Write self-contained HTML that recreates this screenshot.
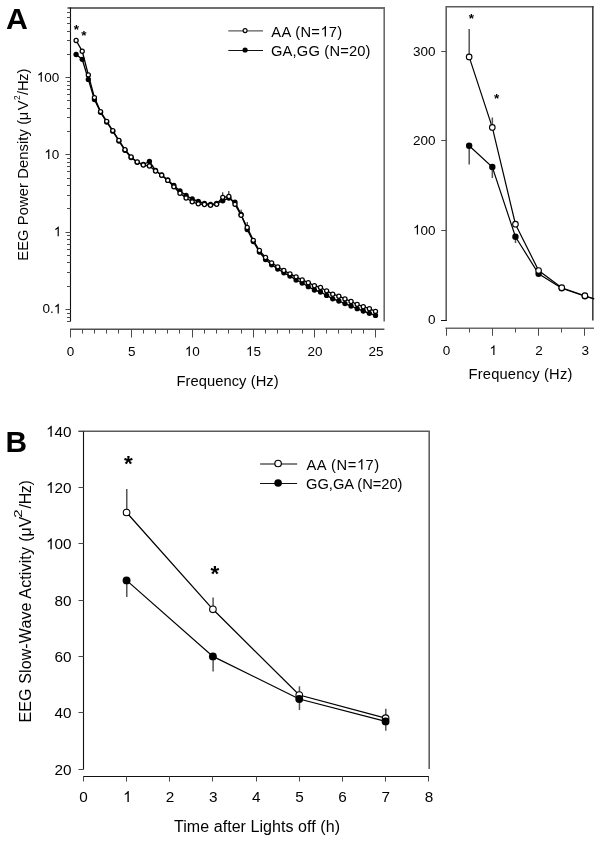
<!DOCTYPE html>
<html><head><meta charset="utf-8"><title>EEG power density figure</title>
<style>
html,body{margin:0;padding:0;background:#fff;}
svg{display:block;will-change:transform;}
text{font-family:"Liberation Sans", sans-serif;fill:#000;}
</style></head>
<body>
<svg width="601" height="841" viewBox="0 0 601 841">
<defs><path id="one" d="M763 0L583 0L583 1147Q520 1087 418 1027Q316 967 223 929L223 1103Q370 1172 480 1270Q590 1368 640 1466L763 1466Z"/></defs>
<rect width="601" height="841" fill="#fff"/>
<path d="M67.5 8H384.2" stroke="#6e6e6e" stroke-width="2"/>
<path d="M384.2 7V321.5" stroke="#6a6a6a" stroke-width="1.6"/>
<path d="M70.5 7.5V321.5" stroke="#111" stroke-width="1.1"/>
<path d="M67 321.5H70.5 M67 317.5H70.5 M67 313.5H70.5 M65.5 309.5H70.5 M67 286.5H70.5 M67 272.5H70.5 M67 262.5H70.5 M67 255.5H70.5 M67 249.5H70.5 M67 244.5H70.5 M67 239.5H70.5 M67 235.5H70.5 M65.5 232.5H70.5 M67 208.5H70.5 M67 195.5H70.5 M67 185.5H70.5 M67 178.5H70.5 M67 171.5H70.5 M67 166.5H70.5 M67 162.5H70.5 M67 158.5H70.5 M65.5 154.5H70.5 M67 131.5H70.5 M67 117.5H70.5 M67 108.5H70.5 M67 100.5H70.5 M67 94.5H70.5 M67 89.5H70.5 M67 85.5H70.5 M67 81.5H70.5 M65.5 77.5H70.5 M67 54.5H70.5 M67 40.5H70.5 M67 31.5H70.5 M67 23.5H70.5 M67 17.5H70.5 M67 12.5H70.5" stroke="#4a4a4a" stroke-width="1"/>
<path d="M70 329.2H384.4" stroke="#505050" stroke-width="1.6"/>
<path d="M70.5 329.5V337.5 M82.5 329.5V333.5 M94.5 329.5V333.5 M106.5 329.5V333.5 M118.5 329.5V333.5 M131.5 329.5V337.5 M143.5 329.5V333.5 M155.5 329.5V333.5 M167.5 329.5V333.5 M179.5 329.5V333.5 M192.5 329.5V337.5 M204.5 329.5V333.5 M216.5 329.5V333.5 M228.5 329.5V333.5 M241.5 329.5V333.5 M253.5 329.5V337.5 M265.5 329.5V333.5 M277.5 329.5V333.5 M289.5 329.5V333.5 M302.5 329.5V333.5 M314.5 329.5V337.5 M326.5 329.5V333.5 M338.5 329.5V333.5 M351.5 329.5V333.5 M363.5 329.5V333.5 M375.5 329.5V337.5" stroke="#4a4a4a" stroke-width="1"/>
<text x="36.8" y="81.7" font-size="13.5"> 00</text>
<use href="#one" transform="translate(36.8 81.7) scale(0.006592 -0.006592)"/>
<text x="44.31" y="158.95" font-size="13.5"> 0</text>
<use href="#one" transform="translate(44.31 158.95) scale(0.006592 -0.006592)"/>
<text x="53.76" y="236.2" font-size="13.5"> </text>
<use href="#one" transform="translate(53.76 236.2) scale(0.006592 -0.006592)"/>
<text x="42.51" y="313.45" font-size="13.5">0. </text>
<use href="#one" transform="translate(53.76 313.45) scale(0.006592 -0.006592)"/>
<text x="66.84" y="355.9" font-size="13.5">0</text>
<text x="127.95" y="355.9" font-size="13.5">5</text>
<text x="184.82" y="355.9" font-size="13.5"> 0</text>
<use href="#one" transform="translate(184.82 355.9) scale(0.006592 -0.006592)"/>
<text x="245.93" y="355.9" font-size="13.5"> 5</text>
<use href="#one" transform="translate(245.93 355.9) scale(0.006592 -0.006592)"/>
<text x="307.42" y="355.9" font-size="13.5">20</text>
<text x="368.53" y="355.9" font-size="13.5">25</text>
<text x="176.39" y="385.5" font-size="14.7" textLength="102.24">Frequency (Hz)</text>
<g transform="translate(27.8 0) rotate(-90)"><text x="-260.71" y="0" font-size="14.7" textLength="140.82">EEG Power Density (</text></g>
<g transform="translate(27.8 0) rotate(-90)"><text x="-120.29" y="0" font-size="14.7" textLength="9.18">μ</text></g>
<g transform="translate(27.8 0) rotate(-90)"><text x="-110.37" y="0" font-size="14.7" textLength="9.24">V</text></g>
<g transform="translate(20.4 0) rotate(-90)"><text x="-100.02" y="0" font-size="8.3" textLength="4.24">2</text></g>
<g transform="translate(27.8 0) rotate(-90)"><text x="-95" y="0" font-size="14.7" textLength="26.43">/Hz)</text></g>
<polyline points="76.11,54.5 82.22,59.3 88.33,79.4 94.44,99.5 100.55,112.3 106.66,122 112.77,131.2 118.88,141 124.99,150.3 131.1,157.5 137.21,162.3 143.32,164.5 149.43,161.5 155.54,170.5 161.65,175 167.76,180 173.87,185.5 179.98,191 186.09,195.5 192.2,199 198.31,201.3 204.42,203.5 210.53,204.5 216.64,203.5 222.75,200.8 228.86,198 234.97,202.2 241.08,214.5 247.19,229.5 253.3,241.5 259.41,252 265.52,259.5 271.63,264.8 277.74,269 283.85,272.8 289.96,276 296.07,280 302.18,283 308.29,286.7 314.4,290 320.51,292 326.62,295.4 332.73,298.8 338.84,301 344.95,303.6 351.06,306 357.17,308.7 363.28,311 369.39,313.3 375.5,315.4" fill="none" stroke="#000" stroke-width="1.35" stroke-linejoin="round"/>
<polyline points="76.11,40.5 82.22,51.2 88.33,74.9 94.44,97.6 100.55,111.6 106.66,121.3 112.77,130.6 118.88,140.3 124.99,149.7 131.1,157 137.21,162 143.32,165 149.43,166 155.54,171 161.65,175.2 167.76,180.4 173.87,186.8 179.98,193.2 186.09,198 192.2,201.8 198.31,203.8 204.42,204.5 210.53,205.3 216.64,204.3 222.75,197.3 228.86,196.5 234.97,204.3 241.08,215.2 247.19,227.5 253.3,240.3 259.41,250.5 265.52,257.5 271.63,262.8 277.74,266.8 283.85,270.5 289.96,273.8 296.07,276.8 302.18,279.9 308.29,282.7 314.4,285.7 320.51,287.5 326.62,290.8 332.73,294.2 338.84,296.2 344.95,298.9 351.06,301.5 357.17,304.3 363.28,306.7 369.39,308.7 375.5,311.4" fill="none" stroke="#000" stroke-width="1.35" stroke-linejoin="round"/>
<path d="M222.75 195.3v-3" stroke="#000" stroke-width="1"/>
<path d="M228.86 194.5v-3.5" stroke="#000" stroke-width="1"/>
<path d="M241.08 213.2v-3.5" stroke="#000" stroke-width="1"/>
<path d="M247.19 225.5v-3.5" stroke="#000" stroke-width="1"/>
<circle cx="76.11" cy="54.5" r="2.65" fill="#000"/>
<circle cx="82.22" cy="59.3" r="2.65" fill="#000"/>
<circle cx="88.33" cy="79.4" r="2.65" fill="#000"/>
<circle cx="94.44" cy="99.5" r="2.65" fill="#000"/>
<circle cx="100.55" cy="112.3" r="2.65" fill="#000"/>
<circle cx="106.66" cy="122" r="2.65" fill="#000"/>
<circle cx="112.77" cy="131.2" r="2.65" fill="#000"/>
<circle cx="118.88" cy="141" r="2.65" fill="#000"/>
<circle cx="124.99" cy="150.3" r="2.65" fill="#000"/>
<circle cx="131.1" cy="157.5" r="2.65" fill="#000"/>
<circle cx="137.21" cy="162.3" r="2.65" fill="#000"/>
<circle cx="143.32" cy="164.5" r="2.65" fill="#000"/>
<circle cx="149.43" cy="161.5" r="2.65" fill="#000"/>
<circle cx="155.54" cy="170.5" r="2.65" fill="#000"/>
<circle cx="161.65" cy="175" r="2.65" fill="#000"/>
<circle cx="167.76" cy="180" r="2.65" fill="#000"/>
<circle cx="173.87" cy="185.5" r="2.65" fill="#000"/>
<circle cx="179.98" cy="191" r="2.65" fill="#000"/>
<circle cx="186.09" cy="195.5" r="2.65" fill="#000"/>
<circle cx="192.2" cy="199" r="2.65" fill="#000"/>
<circle cx="198.31" cy="201.3" r="2.65" fill="#000"/>
<circle cx="204.42" cy="203.5" r="2.65" fill="#000"/>
<circle cx="210.53" cy="204.5" r="2.65" fill="#000"/>
<circle cx="216.64" cy="203.5" r="2.65" fill="#000"/>
<circle cx="222.75" cy="200.8" r="2.65" fill="#000"/>
<circle cx="228.86" cy="198" r="2.65" fill="#000"/>
<circle cx="234.97" cy="202.2" r="2.65" fill="#000"/>
<circle cx="241.08" cy="214.5" r="2.65" fill="#000"/>
<circle cx="247.19" cy="229.5" r="2.65" fill="#000"/>
<circle cx="253.3" cy="241.5" r="2.65" fill="#000"/>
<circle cx="259.41" cy="252" r="2.65" fill="#000"/>
<circle cx="265.52" cy="259.5" r="2.65" fill="#000"/>
<circle cx="271.63" cy="264.8" r="2.65" fill="#000"/>
<circle cx="277.74" cy="269" r="2.65" fill="#000"/>
<circle cx="283.85" cy="272.8" r="2.65" fill="#000"/>
<circle cx="289.96" cy="276" r="2.65" fill="#000"/>
<circle cx="296.07" cy="280" r="2.65" fill="#000"/>
<circle cx="302.18" cy="283" r="2.65" fill="#000"/>
<circle cx="308.29" cy="286.7" r="2.65" fill="#000"/>
<circle cx="314.4" cy="290" r="2.65" fill="#000"/>
<circle cx="320.51" cy="292" r="2.65" fill="#000"/>
<circle cx="326.62" cy="295.4" r="2.65" fill="#000"/>
<circle cx="332.73" cy="298.8" r="2.65" fill="#000"/>
<circle cx="338.84" cy="301" r="2.65" fill="#000"/>
<circle cx="344.95" cy="303.6" r="2.65" fill="#000"/>
<circle cx="351.06" cy="306" r="2.65" fill="#000"/>
<circle cx="357.17" cy="308.7" r="2.65" fill="#000"/>
<circle cx="363.28" cy="311" r="2.65" fill="#000"/>
<circle cx="369.39" cy="313.3" r="2.65" fill="#000"/>
<circle cx="375.5" cy="315.4" r="2.65" fill="#000"/>
<circle cx="76.11" cy="40.5" r="2.05" fill="#fff" stroke="#000" stroke-width="1.25"/>
<circle cx="82.22" cy="51.2" r="2.05" fill="#fff" stroke="#000" stroke-width="1.25"/>
<circle cx="88.33" cy="74.9" r="2.05" fill="#fff" stroke="#000" stroke-width="1.25"/>
<circle cx="94.44" cy="97.6" r="2.05" fill="#fff" stroke="#000" stroke-width="1.25"/>
<circle cx="100.55" cy="111.6" r="2.05" fill="#fff" stroke="#000" stroke-width="1.25"/>
<circle cx="106.66" cy="121.3" r="2.05" fill="#fff" stroke="#000" stroke-width="1.25"/>
<circle cx="112.77" cy="130.6" r="2.05" fill="#fff" stroke="#000" stroke-width="1.25"/>
<circle cx="118.88" cy="140.3" r="2.05" fill="#fff" stroke="#000" stroke-width="1.25"/>
<circle cx="124.99" cy="149.7" r="2.05" fill="#fff" stroke="#000" stroke-width="1.25"/>
<circle cx="131.1" cy="157" r="2.05" fill="#fff" stroke="#000" stroke-width="1.25"/>
<circle cx="137.21" cy="162" r="2.05" fill="#fff" stroke="#000" stroke-width="1.25"/>
<circle cx="143.32" cy="165" r="2.05" fill="#fff" stroke="#000" stroke-width="1.25"/>
<circle cx="149.43" cy="166" r="2.05" fill="#fff" stroke="#000" stroke-width="1.25"/>
<circle cx="155.54" cy="171" r="2.05" fill="#fff" stroke="#000" stroke-width="1.25"/>
<circle cx="161.65" cy="175.2" r="2.05" fill="#fff" stroke="#000" stroke-width="1.25"/>
<circle cx="167.76" cy="180.4" r="2.05" fill="#fff" stroke="#000" stroke-width="1.25"/>
<circle cx="173.87" cy="186.8" r="2.05" fill="#fff" stroke="#000" stroke-width="1.25"/>
<circle cx="179.98" cy="193.2" r="2.05" fill="#fff" stroke="#000" stroke-width="1.25"/>
<circle cx="186.09" cy="198" r="2.05" fill="#fff" stroke="#000" stroke-width="1.25"/>
<circle cx="192.2" cy="201.8" r="2.05" fill="#fff" stroke="#000" stroke-width="1.25"/>
<circle cx="198.31" cy="203.8" r="2.05" fill="#fff" stroke="#000" stroke-width="1.25"/>
<circle cx="204.42" cy="204.5" r="2.05" fill="#fff" stroke="#000" stroke-width="1.25"/>
<circle cx="210.53" cy="205.3" r="2.05" fill="#fff" stroke="#000" stroke-width="1.25"/>
<circle cx="216.64" cy="204.3" r="2.05" fill="#fff" stroke="#000" stroke-width="1.25"/>
<circle cx="222.75" cy="197.3" r="2.05" fill="#fff" stroke="#000" stroke-width="1.25"/>
<circle cx="228.86" cy="196.5" r="2.05" fill="#fff" stroke="#000" stroke-width="1.25"/>
<circle cx="234.97" cy="204.3" r="2.05" fill="#fff" stroke="#000" stroke-width="1.25"/>
<circle cx="241.08" cy="215.2" r="2.05" fill="#fff" stroke="#000" stroke-width="1.25"/>
<circle cx="247.19" cy="227.5" r="2.05" fill="#fff" stroke="#000" stroke-width="1.25"/>
<circle cx="253.3" cy="240.3" r="2.05" fill="#fff" stroke="#000" stroke-width="1.25"/>
<circle cx="259.41" cy="250.5" r="2.05" fill="#fff" stroke="#000" stroke-width="1.25"/>
<circle cx="265.52" cy="257.5" r="2.05" fill="#fff" stroke="#000" stroke-width="1.25"/>
<circle cx="271.63" cy="262.8" r="2.05" fill="#fff" stroke="#000" stroke-width="1.25"/>
<circle cx="277.74" cy="266.8" r="2.05" fill="#fff" stroke="#000" stroke-width="1.25"/>
<circle cx="283.85" cy="270.5" r="2.05" fill="#fff" stroke="#000" stroke-width="1.25"/>
<circle cx="289.96" cy="273.8" r="2.05" fill="#fff" stroke="#000" stroke-width="1.25"/>
<circle cx="296.07" cy="276.8" r="2.05" fill="#fff" stroke="#000" stroke-width="1.25"/>
<circle cx="302.18" cy="279.9" r="2.05" fill="#fff" stroke="#000" stroke-width="1.25"/>
<circle cx="308.29" cy="282.7" r="2.05" fill="#fff" stroke="#000" stroke-width="1.25"/>
<circle cx="314.4" cy="285.7" r="2.05" fill="#fff" stroke="#000" stroke-width="1.25"/>
<circle cx="320.51" cy="287.5" r="2.05" fill="#fff" stroke="#000" stroke-width="1.25"/>
<circle cx="326.62" cy="290.8" r="2.05" fill="#fff" stroke="#000" stroke-width="1.25"/>
<circle cx="332.73" cy="294.2" r="2.05" fill="#fff" stroke="#000" stroke-width="1.25"/>
<circle cx="338.84" cy="296.2" r="2.05" fill="#fff" stroke="#000" stroke-width="1.25"/>
<circle cx="344.95" cy="298.9" r="2.05" fill="#fff" stroke="#000" stroke-width="1.25"/>
<circle cx="351.06" cy="301.5" r="2.05" fill="#fff" stroke="#000" stroke-width="1.25"/>
<circle cx="357.17" cy="304.3" r="2.05" fill="#fff" stroke="#000" stroke-width="1.25"/>
<circle cx="363.28" cy="306.7" r="2.05" fill="#fff" stroke="#000" stroke-width="1.25"/>
<circle cx="369.39" cy="308.7" r="2.05" fill="#fff" stroke="#000" stroke-width="1.25"/>
<circle cx="375.5" cy="311.4" r="2.05" fill="#fff" stroke="#000" stroke-width="1.25"/>
<text x="73.77" y="34.2" font-size="13.5" font-weight="bold">*</text>
<text x="81.37" y="39.8" font-size="13.5" font-weight="bold">*</text>
<path d="M228.3 30.8H263" stroke="#5a5a5a" stroke-width="1.3"/>
<circle cx="245.1" cy="30.6" r="2" fill="#fff" stroke="#000" stroke-width="1.1"/>
<path d="M228.3 50.5H263" stroke="#111" stroke-width="1"/>
<circle cx="245.1" cy="50" r="2.6" fill="#000"/>
<text x="271.26" y="36.5" font-size="14.7" textLength="70.96">AA (N= 7)</text>
<use href="#one" transform="translate(320.5 36.5) scale(0.007178 -0.007178)"/>
<text x="270.96" y="55.7" font-size="14.7" textLength="99.56">GA,GG (N=20)</text>
<text x="5.94" y="29.4" font-size="30.3" textLength="21.88" font-weight="bold">A</text>
<path d="M446 6.8H593.6" stroke="#5a5a5a" stroke-width="1.6"/>
<path d="M592.8 6V320.6" stroke="#404040" stroke-width="1.6"/>
<path d="M446.2 6V321" stroke="#5e5e5e" stroke-width="1.6"/>
<path d="M441.2 230.5H446.3 M441.2 140.5H446.3 M441.2 51.5H446.3" stroke="#4a4a4a" stroke-width="1"/>
<path d="M441 320.5H446.6" stroke="#111" stroke-width="1"/>
<path d="M445.4 328.2H594" stroke="#6a6a6a" stroke-width="1.6"/>
<path d="M446.5 328.2V335.8M469.5 328.2V332.5M492.5 328.2V335.8M515.5 328.2V332.5M538.5 328.2V335.8M561.5 328.2V332.5M584.5 328.2V335.8" stroke="#4a4a4a" stroke-width="1"/>
<text x="428.01" y="323.9" font-size="13.5">0</text>
<text x="413" y="234.5" font-size="13.5"> 00</text>
<use href="#one" transform="translate(413 234.5) scale(0.006592 -0.006592)"/>
<text x="413" y="145.1" font-size="13.5">200</text>
<text x="413" y="55.7" font-size="13.5">300</text>
<text x="442.64" y="355" font-size="13.5">0</text>
<text x="489.45" y="355" font-size="13.5"> </text>
<use href="#one" transform="translate(489.45 355) scale(0.006592 -0.006592)"/>
<text x="535.25" y="355" font-size="13.5">2</text>
<text x="581.59" y="355" font-size="13.5">3</text>
<text x="468.49" y="378.7" font-size="14.7" textLength="103.84">Frequency (Hz)</text>
<polyline points="469.15,145.7 492.3,167 515.45,236.8 538.6,273.8 561.75,288.3 584.9,296.3 594.16,299" fill="none" stroke="#000" stroke-width="1.2"/>
<polyline points="469.15,56.9 492.3,127.4 515.45,224.2 538.6,270.5 561.75,287.7 584.9,295.7 594.16,298.7" fill="none" stroke="#000" stroke-width="1.2"/>
<path d="M469.2 29.1V56.9M492.35 117.4V127.4M469.2 145.7V164.5M492.35 167V178M515.5 236.8V243" stroke="#555" stroke-width="1.5"/>
<circle cx="469.15" cy="145.7" r="3.2" fill="#000"/>
<circle cx="492.3" cy="167" r="3.2" fill="#000"/>
<circle cx="515.45" cy="236.8" r="3.2" fill="#000"/>
<circle cx="538.6" cy="273.8" r="3.2" fill="#000"/>
<circle cx="561.75" cy="288.3" r="3.2" fill="#000"/>
<circle cx="584.9" cy="296.3" r="3.2" fill="#000"/>
<circle cx="469.15" cy="56.9" r="2.8" fill="#fff" stroke="#000" stroke-width="1.1"/>
<circle cx="492.3" cy="127.4" r="2.8" fill="#fff" stroke="#000" stroke-width="1.1"/>
<circle cx="515.45" cy="224.2" r="2.8" fill="#fff" stroke="#000" stroke-width="1.1"/>
<circle cx="538.6" cy="270.5" r="2.8" fill="#fff" stroke="#000" stroke-width="1.1"/>
<circle cx="561.75" cy="287.7" r="2.8" fill="#fff" stroke="#000" stroke-width="1.1"/>
<circle cx="584.9" cy="295.7" r="2.8" fill="#fff" stroke="#000" stroke-width="1.1"/>
<text x="468.72" y="22.8" font-size="13.5" font-weight="bold">*</text>
<text x="493.97" y="102.7" font-size="13.5" font-weight="bold">*</text>
<path d="M78.5 431.2H429.8" stroke="#5a5a5a" stroke-width="1.6"/>
<path d="M429.2 431V769" stroke="#606060" stroke-width="1.6"/>
<path d="M83.5 431V769.5" stroke="#111" stroke-width="1.1"/>
<path d="M78.5 769.5H83.5 M78.5 712.5H83.5 M78.5 656.5H83.5 M78.5 600.5H83.5 M78.5 543.5H83.5 M78.5 487.5H83.5 M78.5 431.5H83.5" stroke="#4a4a4a" stroke-width="1"/>
<path d="M83.2 776.5H429" stroke="#111" stroke-width="1.1"/>
<path d="M83.5 776.5V781.5M126.5 776.5V781.5M169.5 776.5V781.5M212.5 776.5V781.5M256.5 776.5V781.5M299.5 776.5V781.5M342.5 776.5V781.5M385.5 776.5V781.5M428.5 776.5V781.5" stroke="#4a4a4a" stroke-width="1"/>
<text x="54.57" y="774.5" font-size="15.3">20</text>
<text x="54.57" y="718.2" font-size="15.3">40</text>
<text x="54.57" y="661.9" font-size="15.3">60</text>
<text x="54.57" y="605.6" font-size="15.3">80</text>
<text x="46.06" y="549.3" font-size="15.3"> 00</text>
<use href="#one" transform="translate(46.06 549.3) scale(0.007471 -0.007471)"/>
<text x="46.06" y="493" font-size="15.3"> 20</text>
<use href="#one" transform="translate(46.06 493) scale(0.007471 -0.007471)"/>
<text x="46.06" y="436.7" font-size="15.3"> 40</text>
<use href="#one" transform="translate(46.06 436.7) scale(0.007471 -0.007471)"/>
<text x="79.34" y="802" font-size="15.3">0</text>
<text x="123.08" y="802" font-size="15.3"> </text>
<use href="#one" transform="translate(123.08 802) scale(0.007471 -0.007471)"/>
<text x="165.69" y="802" font-size="15.3">2</text>
<text x="208.9" y="802" font-size="15.3">3</text>
<text x="252.07" y="802" font-size="15.3">4</text>
<text x="295.2" y="802" font-size="15.3">5</text>
<text x="338.32" y="802" font-size="15.3">6</text>
<text x="381.53" y="802" font-size="15.3">7</text>
<text x="424.71" y="802" font-size="15.3">8</text>
<text x="173.94" y="831.6" font-size="16" textLength="166.05">Time after Lights off (h)</text>
<g transform="translate(31 0) rotate(-90)"><text x="-722.62" y="0" font-size="16" textLength="175.55">EEG Slow-Wave Activity</text></g>
<g transform="translate(31 0) rotate(-90)"><text x="-541.7" y="0" font-size="16" textLength="5.73">(</text></g>
<g transform="translate(31 0) rotate(-90)"><text x="-536.48" y="0" font-size="16" textLength="9.76">μ</text></g>
<g transform="translate(31 0) rotate(-90)"><text x="-527.18" y="0" font-size="16" textLength="8.85">V</text></g>
<g transform="translate(21.6 517.7) rotate(-90) scale(1.3 1)"><text x="0" y="0" font-size="11.6">2</text></g>
<g transform="translate(31 0) rotate(-90)"><text x="-508.4" y="0" font-size="16" textLength="28.21">/Hz)</text></g>
<polyline points="126.57,512.5 212.91,609.3 299.25,695 385.59,718.2" fill="none" stroke="#000" stroke-width="1.25"/>
<polyline points="126.57,580.4 212.91,656.4 299.25,699 385.59,721.4" fill="none" stroke="#000" stroke-width="1.25"/>
<path d="M126.77 489V512.5M126.77 580.4V597M213.11 597.5V609.3M213.11 656.2V671.4M299.45 686.2V710M385.79 708.7V730.7" stroke="#555" stroke-width="1.5"/>
<circle cx="126.57" cy="512.5" r="3.3" fill="#fff" stroke="#000" stroke-width="1.1"/>
<circle cx="212.91" cy="609.3" r="3.3" fill="#fff" stroke="#000" stroke-width="1.1"/>
<circle cx="299.25" cy="695" r="3.3" fill="#fff" stroke="#000" stroke-width="1.1"/>
<circle cx="385.59" cy="718.2" r="3.3" fill="#fff" stroke="#000" stroke-width="1.1"/>
<circle cx="126.57" cy="580.4" r="3.95" fill="#000"/>
<circle cx="212.91" cy="656.4" r="3.95" fill="#000"/>
<circle cx="299.25" cy="699" r="3.95" fill="#000"/>
<circle cx="385.59" cy="721.4" r="3.95" fill="#000"/>
<text x="123.91" y="470.7" font-size="22.5" font-weight="bold">*</text>
<text x="210.51" y="580.8" font-size="22.5" font-weight="bold">*</text>
<path d="M260.1 464H297.1" stroke="#5a5a5a" stroke-width="1.3"/>
<circle cx="278.1" cy="463.5" r="3.25" fill="#fff" stroke="#000" stroke-width="1.2"/>
<path d="M260.1 483.5H297.1" stroke="#111" stroke-width="1"/>
<circle cx="278.1" cy="483" r="3.8" fill="#000"/>
<text x="306.46" y="469.6" font-size="14.7" textLength="72.66">AA (N= 7)</text>
<use href="#one" transform="translate(356.97 469.6) scale(0.007178 -0.007178)"/>
<text x="306.06" y="488.6" font-size="14.7" textLength="96.36">GG,GA (N=20)</text>
<text x="5.39" y="451.8" font-size="29.8" textLength="22.24" font-weight="bold">B</text>
</svg>
</body></html>
